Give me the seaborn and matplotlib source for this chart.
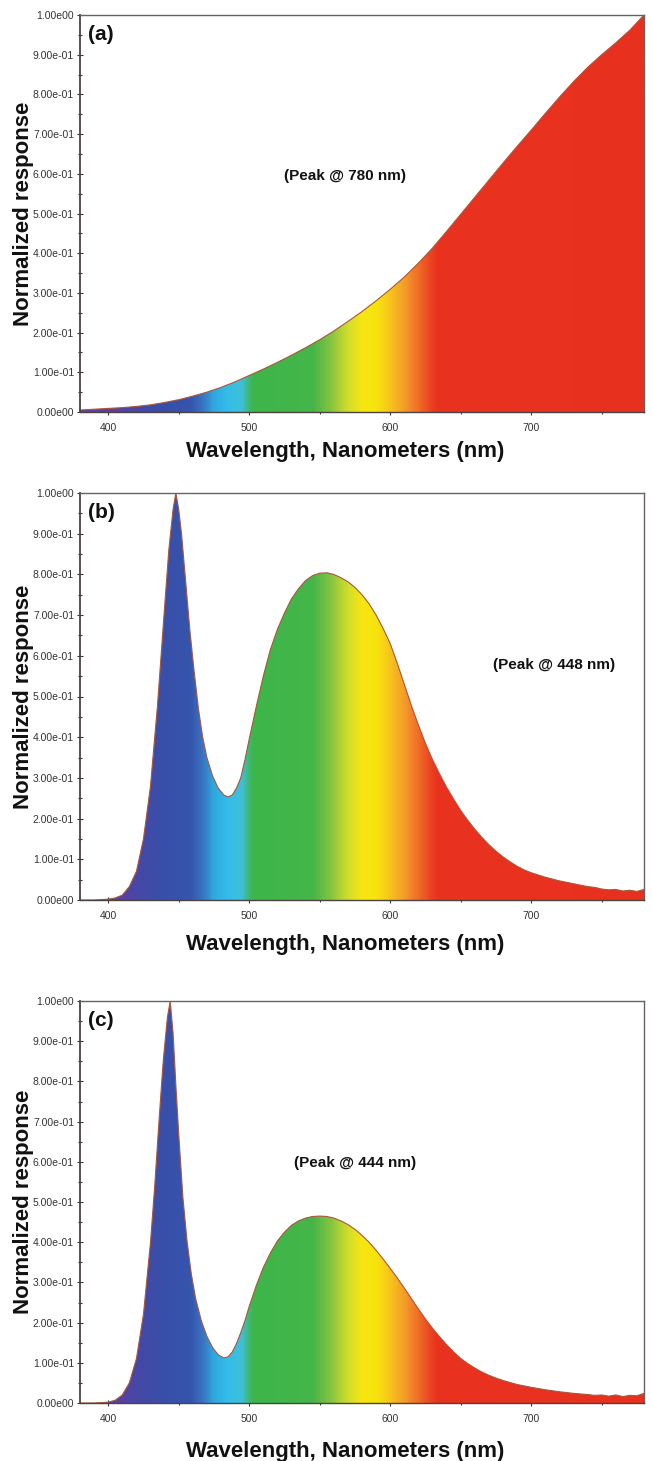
import numpy as np
import matplotlib
matplotlib.use("Agg")
import matplotlib.pyplot as plt
from matplotlib.colors import LinearSegmentedColormap
from matplotlib.ticker import MultipleLocator
import seaborn as sns

# ---------------- data ----------------
wl_a = [380, 390, 400, 410, 420, 430, 440, 450, 460, 470, 480, 490, 500, 510, 520,
        530, 540, 550, 560, 570, 580, 590, 600, 610, 620, 630, 640, 650, 660, 670,
        680, 690, 700, 710, 720, 730, 740, 750, 760, 770, 780]
resp_a = [0.005, 0.007, 0.009, 0.011, 0.014, 0.018, 0.024, 0.031, 0.040, 0.050,
          0.062, 0.076, 0.092, 0.108, 0.125, 0.143, 0.162, 0.182, 0.204, 0.228,
          0.253, 0.280, 0.309, 0.340, 0.375, 0.413, 0.455, 0.498, 0.541, 0.584,
          0.627, 0.669, 0.710, 0.752, 0.793, 0.832, 0.868, 0.900, 0.930, 0.962, 1.000]

wl_b = [380, 390, 395, 400, 405, 410, 415, 420, 425, 430,
        435, 440, 443, 446, 448, 450, 452, 455, 458, 461,
        464, 467, 470, 474, 478, 482, 485, 488, 491, 494,
        497, 500, 505, 510, 515, 520, 525, 530, 535, 540,
        545, 550, 555, 560, 565, 570, 575, 580, 585, 590,
        595, 600, 605, 610, 615, 620, 625, 630, 635, 640,
        645, 650, 655, 660, 665, 670, 675, 680, 685, 690,
        695, 700, 710, 720, 730, 740, 745, 750, 755, 760,
        765, 770, 775, 780]
resp_b = [0.0, 0.0, 0.001, 0.002, 0.005, 0.012, 0.033, 0.07, 0.15, 0.28,
          0.48, 0.72, 0.86, 0.96, 1.0, 0.96, 0.90, 0.78, 0.66, 0.56,
          0.47, 0.40, 0.35, 0.305, 0.275, 0.258, 0.253, 0.258, 0.275, 0.30,
          0.345, 0.395, 0.475, 0.55, 0.615, 0.665, 0.705, 0.74, 0.765, 0.785,
          0.797, 0.803, 0.804, 0.80, 0.792, 0.782, 0.768, 0.75, 0.728, 0.70,
          0.667, 0.63, 0.582, 0.53, 0.478, 0.43, 0.385, 0.345, 0.31, 0.277,
          0.248, 0.22, 0.196, 0.174, 0.154, 0.136, 0.12, 0.106, 0.094, 0.083,
          0.074, 0.067, 0.056, 0.047, 0.04, 0.033, 0.031, 0.027, 0.025, 0.026,
          0.022, 0.024, 0.021, 0.026]

wl_c = [380, 390, 395, 400, 405, 410, 415, 420, 425, 430,
        433, 436, 439, 442, 444, 446, 448, 450, 453, 456,
        459, 462, 466, 470, 474, 478, 482, 485, 488, 491,
        494, 497, 500, 505, 510, 515, 520, 525, 530, 535,
        540, 545, 550, 555, 560, 565, 570, 575, 580, 585,
        590, 595, 600, 605, 610, 615, 620, 625, 630, 635,
        640, 645, 650, 655, 660, 665, 670, 675, 680, 690,
        700, 710, 720, 730, 740, 745, 750, 755, 760, 765,
        770, 775, 780]
resp_c = [0.0, 0.0, 0.001, 0.002, 0.007, 0.02, 0.05, 0.11, 0.22, 0.40,
          0.54, 0.70, 0.85, 0.96, 1.0, 0.92, 0.79, 0.67, 0.51, 0.40,
          0.32, 0.26, 0.205, 0.166, 0.138, 0.12, 0.112, 0.115, 0.127, 0.148,
          0.175, 0.205, 0.24, 0.292, 0.337, 0.373, 0.403, 0.425, 0.442, 0.453,
          0.46, 0.464, 0.465, 0.464, 0.46, 0.453, 0.444, 0.432, 0.417, 0.40,
          0.38, 0.358, 0.335, 0.311, 0.286, 0.26, 0.234, 0.209, 0.186, 0.165,
          0.145, 0.127, 0.111, 0.098, 0.087, 0.077, 0.069, 0.062, 0.056, 0.046,
          0.039, 0.033, 0.028, 0.024, 0.021, 0.019, 0.02, 0.017, 0.02, 0.016,
          0.019, 0.018, 0.024]

panel_labels = ["(a)", "(b)", "(c)"]
peak_texts = ["(Peak @ 780 nm)", "(Peak @ 448 nm)", "(Peak @ 444 nm)"]
peak_text_x = [568, 716, 575]
peak_text_y = [0.595, 0.578, 0.596]

x_ticks = [400, 500, 600, 700]
x_tick_labels = ["400", "500", "600", "700"]
y_ticks = [0.0, 0.1, 0.2, 0.3, 0.4, 0.5, 0.6, 0.7, 0.8, 0.9, 1.0]
y_tick_labels = ["0.00e00", "1.00e-01", "2.00e-01", "3.00e-01", "4.00e-01", "5.00e-01",
                 "6.00e-01", "7.00e-01", "8.00e-01", "9.00e-01", "1.00e00"]
x_label = "Wavelength, Nanometers (nm)"
y_label = "Normalized response"

# ---------------- style ----------------
sns.set_theme(style="white")
plt.rcParams['font.family'] = ['Liberation Sans', 'DejaVu Sans']

# spectral colour stops (wavelength, colour)
spec_stops = [(380, "#6a3c9c"), (405, "#5a3fa3"), (420, "#4747a6"), (435, "#3a4ea8"),
              (458, "#3555ad"), (466, "#3a70c0"), (474, "#30a6de"), (484, "#33bde9"),
              (494, "#3fc0da"), (499, "#3fb87a"), (503, "#3db64a"), (545, "#45b549"),
              (558, "#86c440"), (570, "#d2dd2c"), (580, "#f6e612"), (591, "#f7e30e"),
              (602, "#f6bd1f"), (613, "#f2902a"), (623, "#ee5f26"), (633, "#e9331f"),
              (780, "#e8301f")]
cmap = LinearSegmentedColormap.from_list(
    "spec", [((w - 380) / 400.0, c) for w, c in spec_stops])

fig = plt.figure(figsize=(6.52, 14.61), dpi=100)
W, H = 652.0, 1461.0
ax_px = [(80, 15, 412), (80, 493, 900), (80, 1001, 1403)]  # left, top, bottom in px
ax_right = 644
xlabel_y = [-0.072, -0.084, -0.094]

tick_font = ['Liberation Sans Narrow', 'Liberation Sans', 'DejaVu Sans']

datasets = [(wl_a, resp_a), (wl_b, resp_b), (wl_c, resp_c)]
grad = np.linspace(380, 780, 801)
grad_img = cmap((grad - 380) / 400.0)[np.newaxis, :, :]
grad_img = np.repeat(grad_img, 2, axis=0)

for i, ((wl, resp), (l, t, b)) in enumerate(zip(datasets, ax_px)):
    ax = fig.add_axes([l / W, 1 - b / H, (ax_right - l) / W, (b - t) / H])
    ax.set_xlim(380, 780)
    ax.set_ylim(0, 1)
    poly = ax.fill_between(wl, resp, 0, facecolor="none", edgecolor="none")
    im = ax.imshow(grad_img, extent=(380, 780, 0, 1), aspect="auto",
                   origin="lower", interpolation="bilinear", zorder=1)
    im.set_clip_path(poly.get_paths()[0], transform=ax.transData)
    sns.lineplot(x=wl, y=resp, ax=ax, color="#a9573a", linewidth=0.8, zorder=2)

    ax.set_xticks(x_ticks)
    ax.set_xticklabels(x_tick_labels, family=tick_font, fontsize=7.5, color="#333333")
    ax.set_yticks(y_ticks)
    ax.set_yticklabels(y_tick_labels, family=tick_font, fontsize=7.5, color="#333333")
    ax.xaxis.set_minor_locator(MultipleLocator(50))
    ax.yaxis.set_minor_locator(MultipleLocator(0.05))
    ax.tick_params(which="both", direction="inout", length=4.5, width=0.8,
                   color="#3a3333", bottom=True, left=True)
    ax.tick_params(which="minor", length=3)
    ax.tick_params(axis="x", pad=6)
    ax.tick_params(axis="y", pad=2)
    for side, sp in ax.spines.items():
        sp.set_visible(True)
        sp.set_color("#4a4242" if side in ("left", "bottom") else "#6a6262")
        sp.set_linewidth(1.3 if side == "left" else 1.0)

    ax.set_xlabel(x_label, fontsize=16, fontweight="bold", color="#111111")
    ax.xaxis.set_label_coords(0.47, xlabel_y[i])
    ax.xaxis.label.set_va("top")
    ax.set_ylabel(y_label, fontsize=16, fontweight="bold", color="#111111")
    ax.yaxis.set_label_coords(-0.082, 0.5)

    ax.text(0.014, 0.975, panel_labels[i], transform=ax.transAxes, fontsize=15,
            fontweight="bold", ha="left", va="top", color="#111111")
    ax.text(peak_text_x[i], peak_text_y[i], peak_texts[i], fontsize=11,
            fontweight="bold", ha="center", va="center", color="#111111")
    ax.grid(False)

fig.savefig("out.png", dpi=100, facecolor="white")
